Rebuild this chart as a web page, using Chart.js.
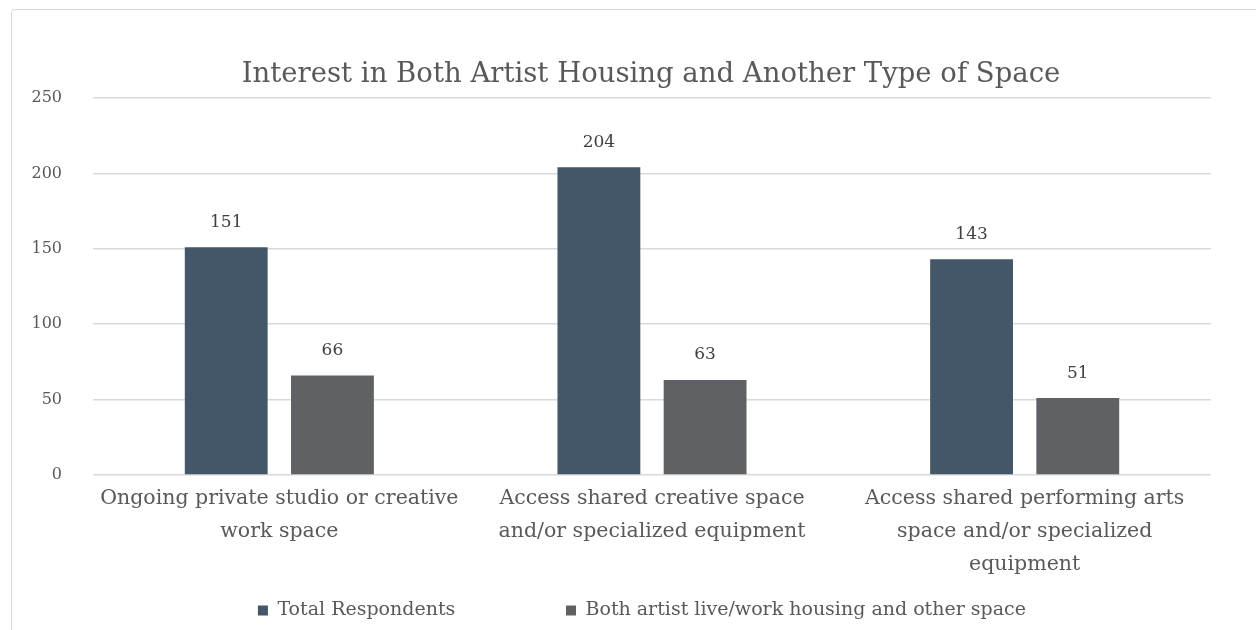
<!DOCTYPE html>
<html>
<head>
<meta charset="utf-8">
<script src="https://cdn.jsdelivr.net/npm/chart.js@4/dist/chart.umd.min.js"></script>
<style>
  html, body { margin: 0; padding: 0; background: #fff; }
  #wrap { position: relative; width: 1256px; height: 630px; overflow: hidden; }
  #frame { position: absolute; left: 11px; top: 9px; width: 1400px; height: 800px;
           border: 1px solid #d9d9d9; border-radius: 3px; }
  canvas { position: absolute; left: 0; top: 0; }
</style>
</head>
<body>
<div id="wrap">
  <div id="frame"></div>
  <canvas id="chart" width="1300" height="630"></canvas>
</div>
<script>
// Daten
const categories = [
  ["Ongoing private studio or creative", "work space"],
  ["Access shared creative space", "and/or specialized equipment"],
  ["Access shared performing arts", "space and/or specialized", "equipment"]
];
const totalRespondents = [151, 204, 143];
const bothHousingAndSpace = [66, 63, 51];
const seriesNames = ["Total Respondents", "Both artist live/work housing and other space"];

const FONT = "'DejaVu Serif', 'Liberation Serif', serif";
const TEXT = "#595959";

// Werte über den Balken
const valueLabels = {
  id: "valueLabels",
  afterDatasetsDraw(chart) {
    const ctx = chart.ctx;
    ctx.save();
    ctx.font = "17px " + FONT;
    ctx.fillStyle = "#404040";
    ctx.textAlign = "center";
    ctx.textBaseline = "middle";
    chart.data.datasets.forEach((ds, i) => {
      chart.getDatasetMeta(i).data.forEach((bar, j) => {
        ctx.fillText(ds.data[j], bar.x, bar.y - 25);
      });
    });
    ctx.restore();
  }
};

new Chart(document.getElementById("chart"), {
  type: "bar",
  data: {
    labels: categories,
    datasets: [
      {
        label: seriesNames[0],
        data: totalRespondents,
        backgroundColor: "#435769",
        categoryPercentage: 0.57,
        barPercentage: 0.78
      },
      {
        label: seriesNames[1],
        data: bothHousingAndSpace,
        backgroundColor: "#606165",
        categoryPercentage: 0.57,
        barPercentage: 0.78
      }
    ]
  },
  options: {
    responsive: false,
    animation: false,
    layout: { padding: { left: 11, right: 9, top: 0, bottom: 0 } },
    scales: {
      x: {
        afterFit(scale) { scale.height = 118; },
        grid: { display: false, drawTicks: false },
        border: { display: false },
        ticks: {
          color: TEXT,
          font: { family: FONT, size: 20.5, lineHeight: 1.61 },
          maxRotation: 0,
          autoSkip: false,
          padding: 7
        }
      },
      y: {
        min: 0,
        max: 250,
        afterFit(scale) { scale.width = 82; },
        grid: { color: "#d9d9d9", lineWidth: 1.5, drawTicks: false },
        border: { display: false },
        ticks: {
          stepSize: 50,
          color: TEXT,
          font: { family: FONT, size: 16 },
          padding: 31
        }
      },
      // leere rechte Achse: Originaldiagramm ist rechts breiter als der Ausschnitt
      yRight: {
        position: "right",
        afterFit(scale) { scale.width = 80; },
        grid: { display: false },
        border: { display: false },
        ticks: { display: false }
      }
    },
    plugins: {
      title: {
        display: true,
        text: "Interest in Both Artist Housing and Another Type of Space",
        color: TEXT,
        font: { family: FONT, size: 27.5, weight: "normal" },
        padding: { top: 58, bottom: 7 }
      },
      legend: {
        position: "bottom",
        labels: {
          color: TEXT,
          font: { family: FONT, size: 19 },
          boxWidth: 10,
          boxHeight: 10,
          padding: 8,
          generateLabels(chart) {
            const items = Chart.defaults.plugins.legend.labels.generateLabels(chart);
            // Abstand zwischen den Einträgen wie im Original
            items[0].text = items[0].text + "\u00a0".repeat(17);
            items[1].text = items[1].text + "\u00a0".repeat(3);
            items.forEach(it => { it.lineWidth = 0; });
            return items;
          }
        }
      },
      tooltip: { enabled: false }
    }
  },
  plugins: [valueLabels]
});
</script>
</body>
</html>
